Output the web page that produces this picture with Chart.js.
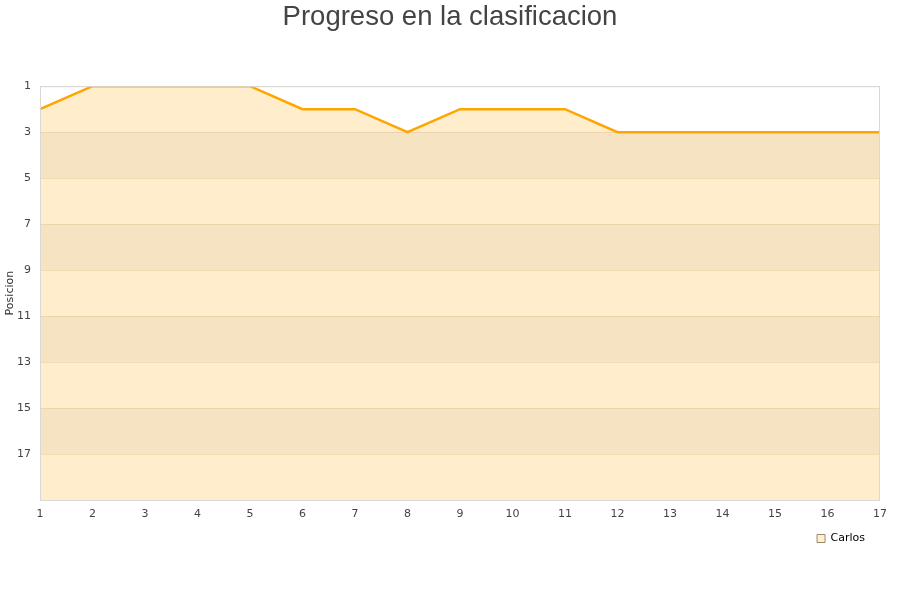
<!DOCTYPE html>
<html>
<head>
<meta charset="utf-8">
<script src="https://cdn.jsdelivr.net/npm/chart.js@4"></script>
<style>
  body { margin: 0; background: #fff; }
</style>
</head>
<body>
<canvas id="chart" width="900" height="600"></canvas>
<script>
// jornadas y posiciones
const jornadas = ['1','2','3','4','5','6','7','8','9','10','11','12','13','14','15','16','17'];
const posiciones = [2, 1, 1, 1, 1, 2, 2, 3, 2, 2, 2, 3, 3, 3, 3, 3, 3];
const jugador = 'Carlos';
const titulo = 'Progreso en la clasificacion';

// franjas de fondo, borde del area y titulo centrado en el lienzo
const bandas = {
    id: 'bandas',
    beforeDatasetsDraw(chart) {
        const {ctx, chartArea, scales} = chart;
        const y = scales.y;
        ctx.save();
        ctx.fillStyle = 'rgba(0,0,0,0.05)';
        for (let v = 3; v < 19; v += 4) {
            const top = y.getPixelForValue(v);
            const bot = y.getPixelForValue(v + 2);
            ctx.fillRect(chartArea.left, top, chartArea.right - chartArea.left, bot - top);
        }
        ctx.restore();
    },
    afterDraw(chart) {
        const {ctx, chartArea} = chart;
        ctx.save();
        ctx.strokeStyle = '#d8d8d8';
        ctx.lineWidth = 1;
        ctx.strokeRect(chartArea.left + 0.5, chartArea.top + 0.5,
            chartArea.right - chartArea.left - 1, chartArea.bottom - chartArea.top);
        ctx.fillStyle = '#444';
        ctx.font = '27.5px "Liberation Sans"';
        ctx.textAlign = 'center';
        ctx.textBaseline = 'middle';
        ctx.fillText(titulo, chart.width / 2, 17);
        ctx.restore();
    }
};

const ctx = document.getElementById('chart').getContext('2d');
new Chart(ctx, {
    type: 'line',
    data: {
        labels: jornadas,
        datasets: [{
            label: jugador,
            data: posiciones,
            borderColor: '#FFA500',
            backgroundColor: 'rgba(255,165,0,0.2)',
            borderWidth: 2.5,
            pointRadius: 0,
            tension: 0,
            fill: 'start'
        }]
    },
    options: {
        responsive: false,
        animation: false,
        layout: { padding: { left: 0, right: 20, top: 0, bottom: 46 } },
        font: { family: 'DejaVu Sans' },
        plugins: {
            title: {
                display: true,
                text: titulo,
                color: 'rgba(0,0,0,0)',
                font: { family: 'Liberation Sans', size: 26, weight: 'normal' },
                padding: { top: 0, bottom: 55 }
            },
            legend: {
                position: 'bottom',
                align: 'end',
                labels: {
                    boxWidth: 8,
                    boxHeight: 8,
                    padding: 15,
                    color: '#222',
                    font: { family: 'DejaVu Sans', size: 11 },
                    generateLabels: () => [{
                        text: jugador,
                        fillStyle: '#FFEFCF',
                        strokeStyle: '#9a8a70',
                        lineWidth: 1,
                        datasetIndex: 0
                    }]
                }
            },
            tooltip: { enabled: false }
        },
        scales: {
            x: {
                grid: { display: false, drawTicks: false },
                border: { display: false },
                ticks: {
                    color: '#444',
                    padding: 8,
                    maxRotation: 0,
                    autoSkip: false,
                    font: { family: 'DejaVu Sans', size: 11 }
                },
                afterFit(scale) { scale.height = 18; }
            },
            y: {
                reverse: true,
                min: 1,
                max: 19,
                grid: { color: 'rgba(180,140,80,0.18)', drawTicks: false },
                border: { display: false },
                ticks: {
                    stepSize: 2,
                    color: '#444',
                    padding: 9,
                    font: { family: 'DejaVu Sans', size: 11 },
                    callback: v => (v === 19 ? '' : v)
                },
                title: {
                    display: true,
                    text: 'Posicion',
                    color: '#333',
                    padding: { top: 4, bottom: 0 },
                    font: { family: 'DejaVu Sans', size: 11 }
                },
                afterFit(scale) { scale.width = 40; }
            }
        }
    },
    plugins: [bandas]
});
</script>
</body>
</html>
